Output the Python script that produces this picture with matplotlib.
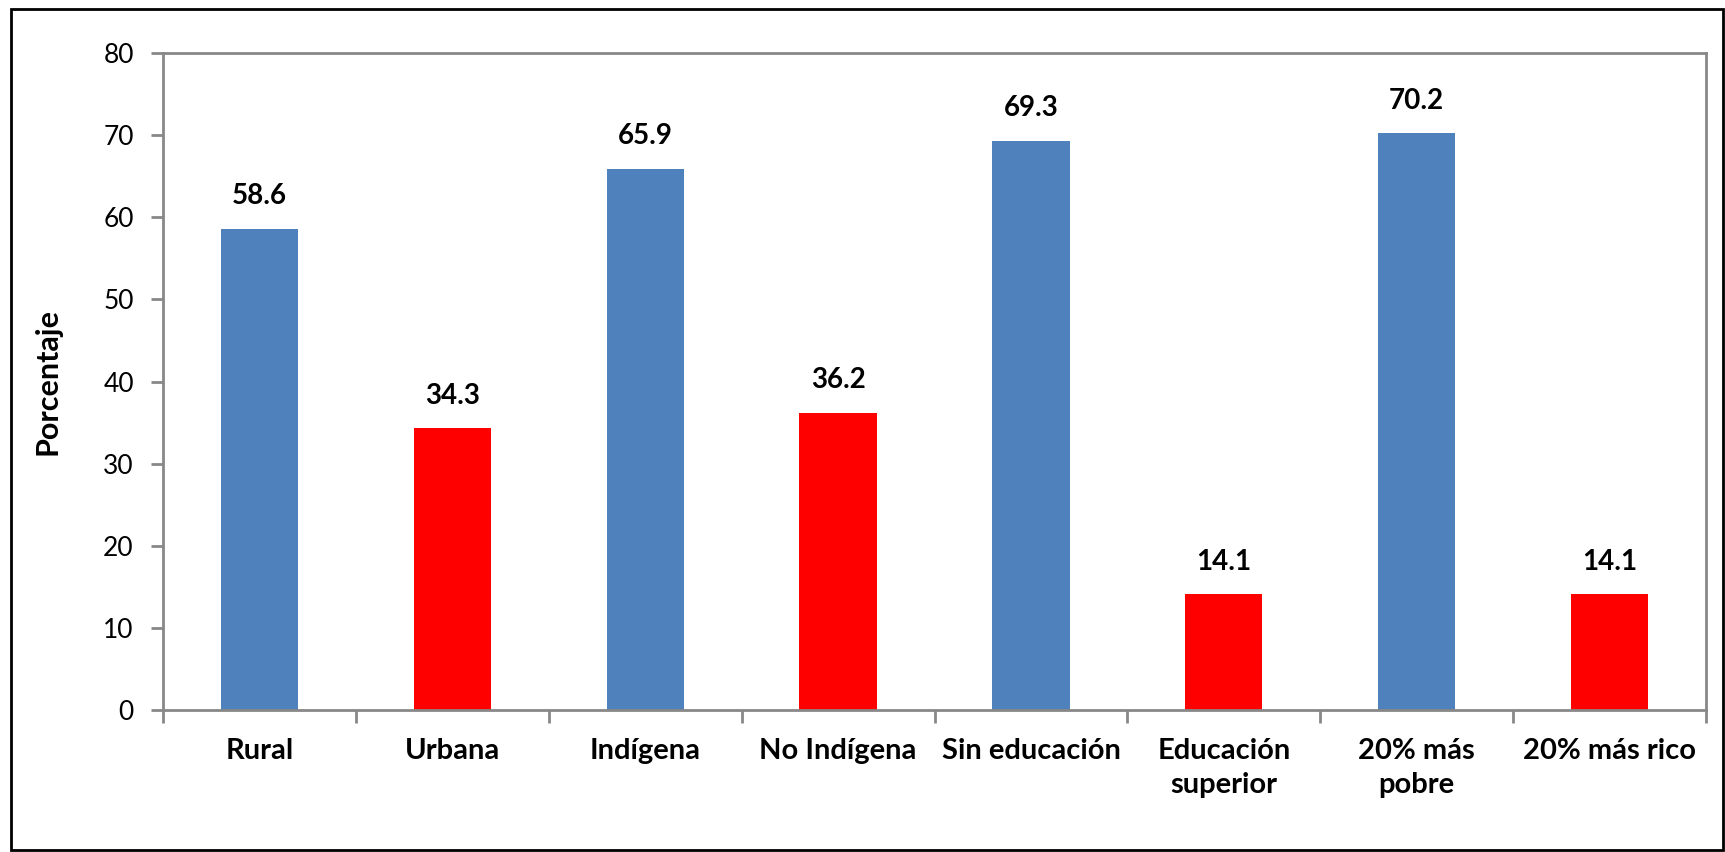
import matplotlib
matplotlib.use("Agg")
import matplotlib.pyplot as plt
from matplotlib.patches import Rectangle

categories = ["Rural", "Urbana", "Indígena", "No Indígena", "Sin educación",
              "Educación\nsuperior", "20% más\npobre", "20% más rico"]
values = [58.6, 34.3, 65.9, 36.2, 69.3, 14.1, 70.2, 14.1]
bar_colors = ["#4F81BD", "#FF0000", "#4F81BD", "#FF0000",
              "#4F81BD", "#FF0000", "#4F81BD", "#FF0000"]
y_ticks = [0, 10, 20, 30, 40, 50, 60, 70, 80]
y_label = "Porcentaje"

plt.rcParams['font.family'] = ['Lato', 'DejaVu Sans']

W, H = 1725, 852
fig = plt.figure(figsize=(W / 100, H / 100), dpi=100)
ax = fig.add_axes([163 / W, 1 - 710 / H, (1706 - 163) / W, (710 - 53) / H])

x = list(range(len(categories)))
ax.bar(x, values, width=0.4, color=bar_colors, zorder=2)

for xi, v in zip(x, values):
    ax.annotate(f"{v:.1f}", (xi, v), xytext=(0, 14), textcoords="offset points",
                ha="center", va="bottom", fontsize=20, fontweight="bold")

ax.set_xlim(-0.5, len(categories) - 0.5)
ax.set_ylim(0, 80)
ax.set_yticks(y_ticks)
ax.set_yticklabels([str(t) for t in y_ticks], fontsize=19)
ax.set_xticks([i - 0.5 for i in range(len(categories) + 1)])
ax.set_xticklabels([])
ax.set_xticks(x, minor=True)
ax.set_xticklabels(categories, minor=True, fontsize=21, fontweight="bold",
                   linespacing=1.4, va="top")
ax.tick_params(axis="x", which="minor", length=0, pad=20)
ax.tick_params(axis="x", which="major", length=9, width=2, color="#888888", direction="out")
ax.tick_params(axis="y", length=9, width=2, color="#888888", direction="out", pad=12)

for s in ax.spines.values():
    s.set_color("#888888")
    s.set_linewidth(2)

ax.set_ylabel(y_label, fontsize=22, fontweight="bold")
ax.yaxis.set_label_coords((62 - 163) / (1706 - 163), 0.5)

fig.patches.append(Rectangle((11 / W, 1 - 850 / H), (1723 - 11) / W, (850 - 9) / H,
                             transform=fig.transFigure, fill=False,
                             edgecolor="black", linewidth=2))

fig.savefig("out.png", dpi=100)
